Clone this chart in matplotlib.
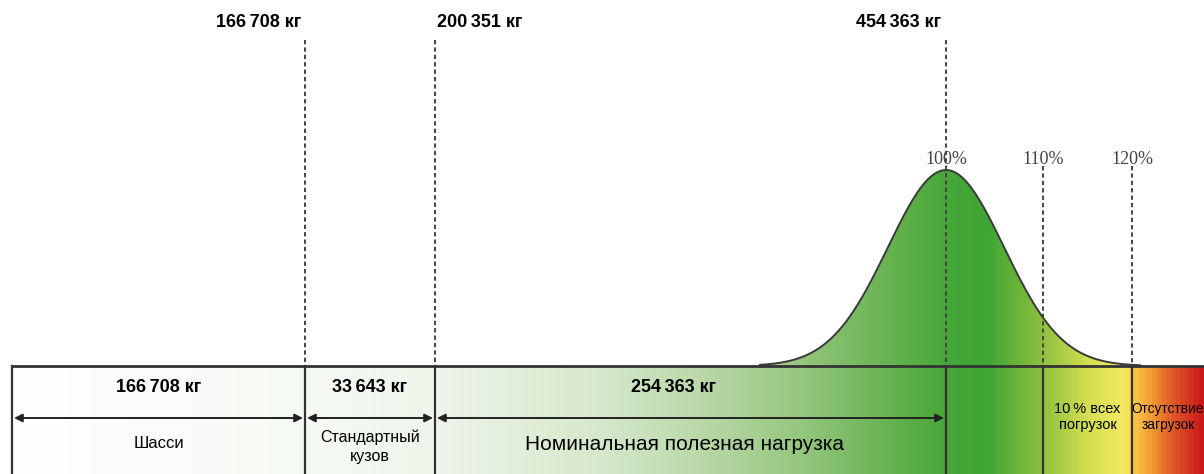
import numpy as np
import matplotlib.pyplot as plt
from matplotlib.colors import LinearSegmentedColormap
from matplotlib.patches import Polygon

# ---- data ----
segment_values = [166708, 33643, 254363]
cumulative_values = [166708, 200351, 454363]
segment_names = ["Шасси", "Стандартный\nкузов", "Номинальная полезная нагрузка"]
percent_marks = [100, 110, 120]
zone_labels = ["10\u2009% всех\nпогрузок", "Отсутствие\nзагрузок"]

# schematic layout (pixel positions of boundaries, not to scale)
seg_edges = [12, 305, 435, 946]
pct_x = [946, 1043, 1132]
band_top, band_bot = 366, 474
right_edge = 1204


def kg(v):
    s = f"{v:,}".replace(",", "\u2009")
    return s + " кг"


plt.rcParams["font.family"] = ["Liberation Sans", "DejaVu Sans"]

fig = plt.figure(figsize=(12.04, 4.74), dpi=100)
ax = fig.add_axes([0, 0, 1, 1])
ax.set_xlim(0, 1204)
ax.set_ylim(474, 0)
ax.axis("off")

# colour ramp along x
stops = [
    (12, "#ffffff"), (300, "#f6faf4"), (435, "#eef5ea"), (600, "#d6e8cc"),
    (700, "#bad9a9"), (800, "#96c77f"), (900, "#62b04c"), (946, "#48a839"),
    (990, "#3fa535"), (1043, "#8dbf3e"), (1090, "#d3de52"), (1128, "#f6ea62"),
    (1134, "#fbcf4e"), (1155, "#ef9a31"), (1175, "#e05a27"), (1204, "#cc1a1a"),
]
x0, x1 = stops[0][0], stops[-1][0]
cmap = LinearSegmentedColormap.from_list(
    "ramp", [((p - x0) / (x1 - x0), c) for p, c in stops])
ramp = np.linspace(0, 1, 1200).reshape(1, -1)

# band
ax.imshow(ramp, cmap=cmap, aspect="auto", extent=(x0, x1, band_bot, band_top),
          interpolation="bilinear", zorder=1)

# bell curve around 100 %
xc = np.linspace(760, 1140, 600)
yc = band_top - 196 * np.exp(-(xc - pct_x[0]) ** 2 / (2 * 58 ** 2))
verts = np.column_stack([np.r_[xc, xc[::-1]], np.r_[yc, np.full_like(xc, band_top)]])
poly = Polygon(verts, closed=True, facecolor="none", edgecolor="none")
ax.add_patch(poly)
im = ax.imshow(ramp, cmap=cmap, aspect="auto", extent=(x0, x1, band_top, 160),
               interpolation="bilinear", zorder=1)
im.set_clip_path(poly)
ax.plot(xc, yc, color="#3a3a3a", lw=1.4, zorder=3)

# band frame
lc = "#333333"
ax.plot([seg_edges[0], right_edge], [band_top, band_top], color=lc, lw=2, zorder=4)
for x in seg_edges + pct_x[1:]:
    ax.plot([x, x], [band_top, band_bot], color=lc, lw=1.6, zorder=4)

# dashed guides
for x in seg_edges[1:]:
    ax.plot([x, x], [40, band_top], color="#444444", lw=1.4,
            ls=(0, (2.2, 1.6)), zorder=3)
for x in pct_x[1:]:
    ax.plot([x, x], [166, band_top], color="#444444", lw=1.4,
            ls=(0, (2.2, 1.6)), zorder=3)

# top cumulative labels
ax.text(seg_edges[1] - 4, 22, kg(cumulative_values[0]), ha="right", va="center",
        fontsize=13, fontweight="bold")
ax.text(seg_edges[2] + 2, 22, kg(cumulative_values[1]), ha="left", va="center",
        fontsize=13, fontweight="bold")
ax.text(seg_edges[3] - 5, 22, kg(cumulative_values[2]), ha="right", va="center",
        fontsize=13, fontweight="bold")

# percent labels
for x, p in zip(pct_x, percent_marks):
    ax.text(x, 160, f"{p}%", ha="center", va="center", fontsize=13,
            family="Liberation Serif", color="#444444", zorder=5)

# segments: values, arrows, names
name_sizes = [12, 11.5, 15]
for i in range(3):
    a, b = seg_edges[i], seg_edges[i + 1]
    mid = (a + b) / 2
    ax.text(mid - (17 if i == 2 else 0), 387, kg(segment_values[i]), ha="center",
            va="center", fontsize=13, fontweight="bold", zorder=5)
    ax.annotate("", xy=(b - 2, 418), xytext=(a + 2, 418),
                arrowprops=dict(arrowstyle="<|-|>", color="#222222", lw=1.4,
                                mutation_scale=12, shrinkA=0, shrinkB=0), zorder=5)
    ax.text(mid - (6 if i == 2 else 0), 444 if i != 1 else 447, segment_names[i],
            ha="center", va="center", fontsize=name_sizes[i], linespacing=1.3,
            zorder=5)

# zone labels
zone_sizes = [10.5, 9.8]
for i, lab in enumerate(zone_labels):
    a = pct_x[1 + i]
    b = pct_x[2] if i == 0 else right_edge
    ax.text((a + b) / 2, 417, lab, ha="center", va="center",
            fontsize=zone_sizes[i], linespacing=1.15, zorder=5)

fig.savefig("out.png", dpi=100)
